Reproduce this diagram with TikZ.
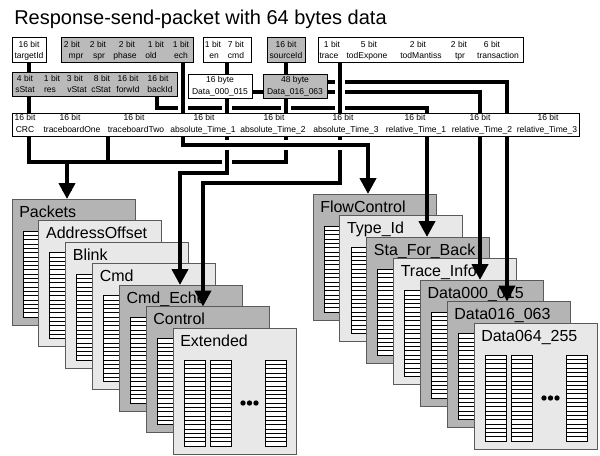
\documentclass[tikz,border=0pt]{standalone}
\usepackage{fontspec}
\setmainfont{Liberation Sans}
\usetikzlibrary{arrows.meta}
\pgfdeclarelayer{bg}
\pgfsetlayers{bg,main}
\definecolor{gdark}{HTML}{B4B4B4}
\definecolor{glight}{HTML}{E8E8E8}
\definecolor{gbox}{HTML}{BABABA}
\definecolor{pedge}{HTML}{5A5A5A}
\newcommand\fsmall{\fontsize{6.4pt}{7pt}\selectfont}
\newcommand\ftitle{\fontsize{12pt}{14pt}\selectfont}
\newcommand\tpage[5]{%
  \node[pagebox,fill=#4] (#1) at (#2,#3) {};
  \node[ptitle] (#1t) at (#2+7,#3+18) {#5};
  \foreach \cx in {11,37,92}{%
    \draw[ladder] (#2+\cx,#3+32) rectangle (#2+\cx+21,#3+118);
    \foreach \k in {1,...,19}{\draw[rung] (#2+\cx,#3+32+\k*4.3) -- (#2+\cx+21,#3+32+\k*4.3);}
  }%
  \foreach \dx in {70,76.5,83}{\fill (#2+\dx,#3+75) circle[radius=2pt];}
}
\newcommand\wireset[1]{%
  \draw[wire,#1] (sStat.south -| c6a) -- (c6a) -- (c6b) -- (qC.north -| c6b);
  \draw[wire,#1] (d000.east |- c7a) -- (c7a) -- (qE.north -| c7a);
  \draw[wire,#1] (d016.east |- c8a) -- (c8a) -- (qF.north -| c8a);
  \draw[wire,#1] (targetId.south) |- (jA) -- (sourceId.south)
        (big.south -| tb) -- (tb) (pkJ) -- (pA.north -| pkJ);
  \draw[wire,#1] (en.south) -- (c3a) -- (c3b) -- (pE.north -| c3b);
  \draw[wire,#1] (trace.south -| c5a) -- (c5a) -- (c5b) -- (pF.north -| c5b);
  \draw[wire,#1] (bxB.south -| c2a) -- (c2a) -- (c2b) -- (qA.north -| c2b);
}
\begin{document}
\begin{tikzpicture}[x=0.75pt,y=-0.75pt,
  box/.style={draw=black,line width=0.75pt,anchor=north west,inner sep=0pt,outer sep=0pt,minimum height=18.75pt},
  fl/.style={font=\fsmall,inner sep=0pt,anchor=base},
  pagebox/.style={draw=pedge,line width=0.6pt,anchor=north west,inner sep=0pt,outer sep=0pt,minimum width=92.25pt,minimum height=94.5pt},
  ptitle/.style={anchor=base west,inner sep=0pt,font=\ftitle},
  ladder/.style={draw=black,fill=white,line width=0.5pt},
  rung/.style={draw=black,line width=0.45pt},
  wire/.style={line width=3pt,line join=miter,-{Triangle[width=12pt,length=12pt]}},
  halo/.style={preaction={draw=white,line width=7.5pt,-}}]
\useasboundingbox (0,0) rectangle (600,455);
\node[anchor=base west,inner sep=0pt,font=\fontsize{15pt}{18pt}\selectfont] (title) at (14,24) {Response-send-packet with 64 bytes data};

% row 1
\node[box,fill=white,minimum width=25.5pt] (targetId) at (12,37) {};
\node[box,fill=gbox,minimum width=99pt] (bxB) at (61,37) {};
\node[box,fill=white,minimum width=36pt] (en) at (203,37) {};
\node[box,fill=gbox,minimum width=28.5pt] (sourceId) at (267,37) {};
\node[box,fill=white,minimum width=153.75pt] (trace) at (318,37) {};
% row 2
\node[box,fill=gbox,minimum width=123.75pt,minimum height=18pt] (sStat) at (12,72) {};
\node[box,fill=white,minimum width=48pt,minimum height=18pt] (d000) at (188,74) {};
\node[box,fill=gbox,minimum width=48pt,minimum height=18pt] (d016) at (263,74) {};
% row 3
\node[box,fill=white,minimum width=425.25pt,minimum height=17.25pt] (big) at (12,113) {};

% row 1 labels
\node[fl] (ta1) at (29,47) {16 bit};
\node[fl] (ta2) at (29,58.5) {targetId};
\foreach \x/\t [count=\i] in {72/2 bit,98/2 bit,127/2 bit,156/1 bit,181/1 bit}
  \node[fl] (bb\i) at (\x,47) {\t};
\foreach \x/\t [count=\i] in {76/mpr,99/spr,125/phase,151/old,181/ech}
  \node[fl] (bn\i) at (\x,58.5) {\t};
\node[fl] (eb1) at (213,47) {1 bit};
\node[fl] (eb2) at (236,47) {7 bit};
\node[fl] (en1) at (214,58.5) {en};
\node[fl] (en2) at (236,58.5) {cmd};
\node[fl] (sb1) at (286,47) {16 bit};
\node[fl] (sn1) at (286,58.5) {sourceId};
\foreach \x/\t [count=\i] in {332/1 bit,369/5 bit,418/2 bit,459/2 bit,492/6 bit}
  \node[fl] (tb\i) at (\x,47) {\t};
\foreach \x/\t [count=\i] in {329/trace,367/todExpone,421/todMantiss,460/tpr,498/transaction}
  \node[fl] (tn\i) at (\x,58.5) {\t};
% row 2 labels
\foreach \x/\t [count=\i] in {25/4 bit,52/1 bit,75/3 bit,102/8 bit,128/16 bit,158/16 bit}
  \node[fl] (sb\i) at (\x,81) {\t};
\foreach \x/\t [count=\i] in {25/sStat,50/res,77/vStat,101/cStat,128/forwId,160/backId}
  \node[fl] (sn\i) at (\x,92.5) {\t};
\node[fl] (db1) at (220,82.5) {16 byte};
\node[fl] (dn1) at (220,94.5) {Data\_000\_015};
\node[fl] (db2) at (295,82.5) {48 byte};
\node[fl] (dn2) at (295,94.5) {Data\_016\_063};
% row 3 labels
\foreach \x [count=\i] in {25,70,134,204,274,343,415,480,548}
  \node[fl] (rb\i) at (\x,120.5) {16 bit};
\foreach \x/\t [count=\i] in {25/CRC,72/traceboardOne,136/traceboardTwo,203/absolute\_Time\_1,273/absolute\_Time\_2,346/absolute\_Time\_3,416/relative\_Time\_1,482/relative\_Time\_2,547/relative\_Time\_3}
  \node[fl] (rn\i) at (\x,132) {\t};

% pages, left stack
\tpage{pA}{12}{199}{gdark}{Packets}
\tpage{pB}{38.83}{220.5}{glight}{AddressOffset}
\tpage{pC}{65.67}{242}{glight}{Blink}
\tpage{pD}{92.5}{263.5}{glight}{Cmd}
\tpage{pE}{119.33}{285}{gdark}{Cmd\_Echo}
\tpage{pF}{146.17}{306.5}{gdark}{Control}
\tpage{pG}{173}{328}{glight}{Extended}
% pages, right stack
\tpage{qA}{313}{194}{gdark}{FlowControl}
\tpage{qB}{339.83}{215.5}{glight}{Type\_Id}
\tpage{qC}{366.67}{237}{gdark}{Sta\_For\_Back}
\tpage{qD}{393.5}{258.5}{glight}{Trace\_Info}
\tpage{qE}{420.33}{280}{gdark}{Data000\_015}
\tpage{qF}{447.17}{301.5}{gdark}{Data016\_063}
\tpage{qG}{474}{323}{glight}{Data064\_255}

% wire bend points
\coordinate (c6a) at (157,108); \coordinate (c6b) at (427,108);
\coordinate (c7a) at (480,92);
\coordinate (c8a) at (507,82);
\coordinate (jA) at (286,162); \coordinate (tb) at (108,162); \coordinate (pkJ) at (67,162);
\coordinate (c3a) at (227,173); \coordinate (c3b) at (180,173);
\coordinate (c5a) at (340,183); \coordinate (c5b) at (203,183);
\coordinate (c2a) at (183,145); \coordinate (c2b) at (368,145);

\begin{pgfonlayer}{bg}
  \begin{scope}
    \clip (0,0) rectangle (600,190);
    \wireset{halo}
  \end{scope}
\end{pgfonlayer}
\begin{scope}
  \clip (0,190) rectangle (600,455);
  \wireset{}
\end{scope}
\end{tikzpicture}
\end{document}
